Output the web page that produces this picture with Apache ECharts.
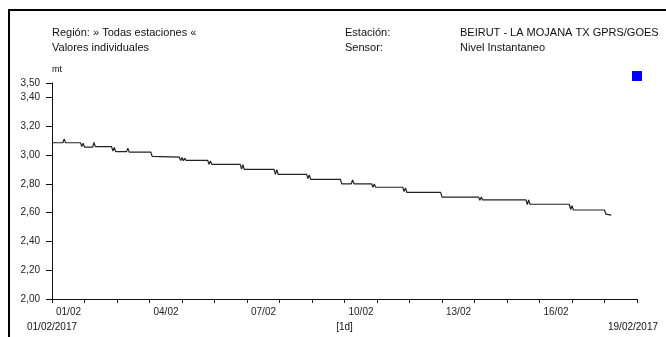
<!DOCTYPE html>
<html>
<head>
<meta charset="utf-8">
<script src="https://cdn.jsdelivr.net/npm/echarts@6/dist/echarts.min.js"></script>
<style>html,body{margin:0;padding:0;background:#fff}#c{width:666px;height:337px}</style>
</head>
<body>
<div id="c"></div>
<script>
// ---- data ----
var startDate = '2017-02-01 00:00';
var endDate = '2017-02-19 00:00';
var times = [
  '2017-02-01 00:00','2017-02-01 08:00','2017-02-01 09:00','2017-02-01 10:00',
  '2017-02-01 21:00','2017-02-01 22:00','2017-02-01 23:00','2017-02-02 00:00',
  '2017-02-02 06:00','2017-02-02 07:00','2017-02-02 08:00',
  '2017-02-02 20:00','2017-02-02 21:00','2017-02-02 22:00','2017-02-02 23:00',
  '2017-02-03 07:00','2017-02-03 08:00','2017-02-03 09:00',
  '2017-02-04 01:00','2017-02-04 02:00',
  '2017-02-04 22:00','2017-02-04 23:00','2017-02-05 00:00','2017-02-05 01:00','2017-02-05 02:00','2017-02-05 03:00',
  '2017-02-05 19:00','2017-02-05 20:00','2017-02-05 21:00','2017-02-05 22:00',
  '2017-02-06 19:00','2017-02-06 20:00','2017-02-06 21:00','2017-02-06 22:00',
  '2017-02-07 20:00','2017-02-07 21:00','2017-02-07 22:00','2017-02-07 23:00',
  '2017-02-08 20:00','2017-02-08 21:00','2017-02-08 22:00','2017-02-08 23:00',
  '2017-02-09 21:00','2017-02-09 22:00',
  '2017-02-10 05:00','2017-02-10 06:00','2017-02-10 07:00',
  '2017-02-10 20:00','2017-02-10 21:00','2017-02-10 22:00','2017-02-10 23:00',
  '2017-02-11 19:00','2017-02-11 20:00','2017-02-11 21:00','2017-02-11 22:00',
  '2017-02-12 23:00','2017-02-13 00:00',
  '2017-02-14 03:00','2017-02-14 04:00','2017-02-14 05:00','2017-02-14 06:00',
  '2017-02-15 14:00','2017-02-15 15:00','2017-02-15 16:00','2017-02-15 17:00',
  '2017-02-16 22:00','2017-02-16 23:00','2017-02-17 00:00','2017-02-17 01:00',
  '2017-02-18 00:00','2017-02-18 01:00','2017-02-18 02:00','2017-02-18 05:00'
];
var values = [
  3.085,3.085,3.112,3.085,
  3.085,3.058,3.082,3.055,
  3.055,3.088,3.058,
  3.058,3.028,3.052,3.023,
  3.023,3.048,3.020,
  3.020,2.990,
  2.985,2.962,2.982,2.960,2.978,2.962,
  2.962,2.935,2.958,2.935,
  2.935,2.902,2.932,2.900,
  2.900,2.866,2.898,2.866,
  2.866,2.836,2.862,2.831,
  2.831,2.800,
  2.800,2.826,2.800,
  2.800,2.776,2.798,2.776,
  2.776,2.746,2.772,2.741,
  2.741,2.708,
  2.708,2.686,2.708,2.688,
  2.688,2.656,2.688,2.658,
  2.658,2.622,2.648,2.618,
  2.618,2.590,2.583,2.583
];
var yMin = 2.0, yMax = 3.5, yStep = 0.2;
var headerLeft = ['Región: » Todas estaciones «', 'Valores individuales'];
var headerMidLabels = ['Estación:', 'Sensor:'];
var headerMidValues = ['BEIRUT - LA MOJANA TX GPRS/GOES', 'Nivel Instantaneo'];
var unitName = 'mt';
var startLabel = '01/02/2017', endLabel = '19/02/2017', stepLabel = '[1d]';

// ---- helpers ----
function parseT(s) {
  var p = s.split(/[- :]/).map(Number);
  return Date.UTC(p[0], p[1] - 1, p[2], p[3], p[4]);
}
var t0 = parseT(startDate), t1 = parseT(endDate);
var DAY = 86400000;
var nDays = (t1 - t0) / DAY;
var seriesData = times.map(function (t, i) { return [(parseT(t) - t0) / DAY, values[i]]; });
function pad(n) { return (n < 10 ? '0' : '') + n; }

var FONT = '"Liberation Sans", Arial, sans-serif';
var chart = echarts.init(document.getElementById('c'), null, { renderer: 'canvas' });

var G = { left: 52, right: 29, top: 83, bottom: 38 };
var axisRight = 666 - G.right;

var graphics = [
  { type: 'rect', shape: { x: 9, y: 10, width: 800, height: 500 }, style: { fill: null, stroke: '#000', lineWidth: 2 }, silent: true },
  { type: 'text', x: 52, y: 33, style: { text: headerLeft[0], font: '11px ' + FONT, fill: '#111', verticalAlign: 'middle' } },
  { type: 'text', x: 52, y: 48, style: { text: headerLeft[1], font: '11px ' + FONT, fill: '#111', verticalAlign: 'middle' } },
  { type: 'text', x: 345, y: 33, style: { text: headerMidLabels[0], font: '11px ' + FONT, fill: '#111', verticalAlign: 'middle' } },
  { type: 'text', x: 345, y: 48, style: { text: headerMidLabels[1], font: '11px ' + FONT, fill: '#111', verticalAlign: 'middle' } },
  { type: 'text', x: 460, y: 33, style: { text: headerMidValues[0], font: '11px ' + FONT, fill: '#111', verticalAlign: 'middle' } },
  { type: 'text', x: 460, y: 48, style: { text: headerMidValues[1], font: '11px ' + FONT, fill: '#111', verticalAlign: 'middle' } },
  { type: 'text', x: 52, y: 70, style: { text: unitName, font: '9px ' + FONT, fill: '#111', verticalAlign: 'middle' } },
  { type: 'rect', shape: { x: 632, y: 71, width: 10, height: 10 }, style: { fill: '#0000ff' } },
  { type: 'text', x: 52, y: 327, style: { text: startLabel, font: '10px ' + FONT, fill: '#111', align: 'center', verticalAlign: 'middle' } },
  { type: 'text', x: (52 + axisRight) / 2, y: 327, style: { text: stepLabel, font: '10px ' + FONT, fill: '#111', align: 'center', verticalAlign: 'middle' } },
  { type: 'text', x: axisRight - 4, y: 327, style: { text: endLabel, font: '10px ' + FONT, fill: '#111', align: 'center', verticalAlign: 'middle' } }
];

chart.setOption({
  animation: false,
  backgroundColor: '#fff',
  grid: G,
  xAxis: {
    type: 'value', min: 0, max: nDays, interval: 1,
    axisLine: { show: true, lineStyle: { color: '#111', width: 1 } },
    axisTick: { show: true, length: 4, lineStyle: { color: '#111' } },
    splitLine: { show: false },
    axisLabel: {
      margin: 8, align: 'left', padding: [0, 0, 0, 4],
      fontFamily: FONT, fontSize: 10, color: '#222',
      formatter: function (v) {
        if (v % 3 !== 0 || v >= nDays) return '';
        var d = new Date(t0 + v * DAY);
        return pad(d.getUTCDate()) + '/' + pad(d.getUTCMonth() + 1);
      }
    }
  },
  yAxis: {
    type: 'value', min: yMin, max: yMax, interval: yStep,
    axisLine: { show: true, lineStyle: { color: '#111', width: 1 } },
    axisTick: { show: true, length: 6, lineStyle: { color: '#111' } },
    splitLine: { show: false },
    axisLabel: {
      margin: 12, fontFamily: FONT, fontSize: 10, color: '#222',
      formatter: function (v) { return v.toFixed(2).replace('.', ','); }
    }
  },
  series: [{
    type: 'line', data: seriesData, showSymbol: false, symbol: 'none',
    lineStyle: { color: '#222', width: 1.2 }
  }],
  graphic: graphics
});
</script>
</body>
</html>
